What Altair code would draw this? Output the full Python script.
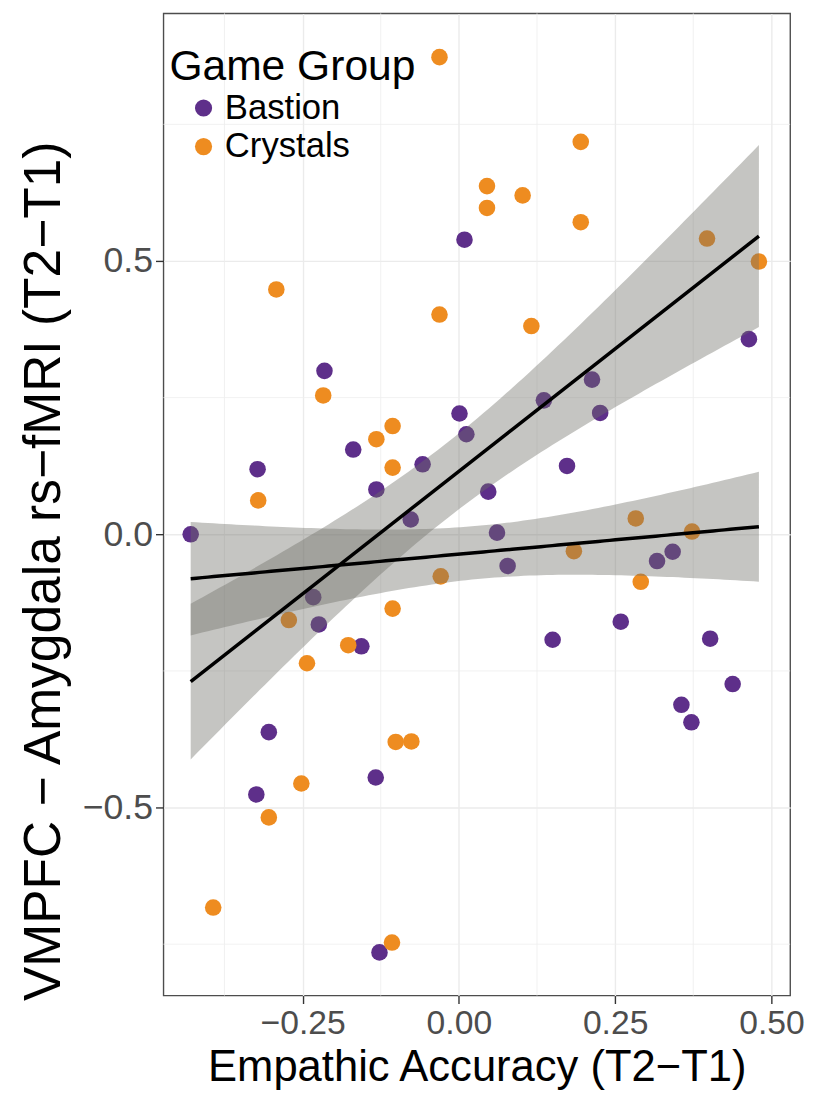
import numpy as np
import pandas as pd
import altair as alt

# ---- data ----
bastion_x = [0.009, 0.464, -0.215, 0.213, 0.136, 0.001, 0.226, 0.012, -0.169, -0.058,
             0.173, -0.322, -0.132, 0.047, -0.077, 0.061, -0.429, 0.342, 0.317, 0.078,
             -0.233, 0.259, -0.224, 0.150, 0.402, -0.156, 0.438, 0.356, 0.372, -0.304,
             -0.133, -0.324, -0.127]
bastion_y = [0.539, 0.357, 0.299, 0.283, 0.245, 0.221, 0.222, 0.183, 0.155, 0.128,
             0.125, 0.119, 0.082, 0.078, 0.027, 0.003, 0.000, -0.032, -0.049, -0.058,
             -0.115, -0.160, -0.165, -0.193, -0.191, -0.205, -0.274, -0.312, -0.344, -0.362,
             -0.445, -0.476, -0.765]
crystals_x = [-0.031, 0.195, 0.045, 0.102, 0.045, 0.195, 0.397, 0.480, -0.292, -0.031,
              0.116, -0.217, -0.106, -0.132, -0.106, -0.321, 0.283, 0.373, 0.184, -0.029,
              0.291, -0.106, -0.272, -0.177, -0.243, -0.101, -0.076, -0.252, -0.304, -0.393,
              -0.107]
crystals_y = [0.873, 0.718, 0.637, 0.620, 0.597, 0.571, 0.541, 0.499, 0.448, 0.402,
              0.381, 0.254, 0.198, 0.174, 0.122, 0.062, 0.029, 0.005, -0.031, -0.077,
              -0.087, -0.136, -0.157, -0.203, -0.236, -0.380, -0.379, -0.456, -0.518, -0.683,
              -0.747]

groups = ["Bastion", "Crystals"]
group_colors = ["#5E2F8A", "#EE8C20"]

x_ticks = [-0.25, 0.0, 0.25, 0.5]
y_ticks = [-0.5, 0.0, 0.5]
x_minor = [-0.375, -0.125, 0.125, 0.375]
y_minor = [-0.75, -0.25, 0.25, 0.75]
x_domain = [-0.4726, 0.530]
y_domain = [-0.844, 0.953]

FONT = "Liberation Sans"

points = pd.DataFrame({
    "x": bastion_x + crystals_x,
    "y": bastion_y + crystals_y,
    "group": ["Bastion"] * len(bastion_x) + ["Crystals"] * len(crystals_x),
})

# ---- linear fits with a +/- 1 standard-error band ----
SE_MULT = 1.0
all_x = np.array(bastion_x + crystals_x)
grid = np.linspace(all_x.min(), all_x.max(), 100)


def lm_band(xs, ys, name):
    xs = np.asarray(xs)
    ys = np.asarray(ys)
    n = len(xs)
    slope, icpt = np.polyfit(xs, ys, 1)
    resid = ys - (icpt + slope * xs)
    s = np.sqrt((resid ** 2).sum() / (n - 2))
    xbar = xs.mean()
    sxx = ((xs - xbar) ** 2).sum()
    fit = icpt + slope * grid
    se = s * np.sqrt(1.0 / n + (grid - xbar) ** 2 / sxx)
    return pd.DataFrame({"x": grid, "fit": fit, "lo": fit - SE_MULT * se,
                         "hi": fit + SE_MULT * se, "group": name})


fits = pd.concat([lm_band(bastion_x, bastion_y, "Bastion"),
                  lm_band(crystals_x, crystals_y, "Crystals")])

xs = alt.Scale(domain=x_domain, nice=False, zero=False)
ys = alt.Scale(domain=y_domain, nice=False, zero=False)

x_axis = alt.Axis(values=x_ticks,
                  labelExpr="replace(format(datum.value, '.2f'), '-', '\u2212')",
                  title="Empathic Accuracy (T2\u2212T1)",
                  labelFontSize=34, titleFontSize=44)
y_axis = alt.Axis(values=y_ticks,
                  labelExpr="replace(format(datum.value, '.1f'), '-', '\u2212')",
                  title="VMPFC \u2212 Amygdala rs\u2212fMRI (T2\u2212T1)",
                  labelFontSize=36, titleFontSize=52,
                  titleY=563, titleX=-94, titleAngle=270, titleBaseline="bottom",
                  titleAlign="center")

minor_x = alt.Chart(pd.DataFrame({"v": x_minor})).mark_rule(
    color="#EDEDED", strokeWidth=0.8).encode(x=alt.X("v:Q", scale=xs, axis=x_axis))
minor_y = alt.Chart(pd.DataFrame({"v": y_minor})).mark_rule(
    color="#EDEDED", strokeWidth=0.8).encode(y=alt.Y("v:Q", scale=ys, axis=y_axis))

pts = alt.Chart(points).mark_circle(size=280, opacity=1).encode(
    x=alt.X("x:Q", scale=xs, axis=x_axis),
    y=alt.Y("y:Q", scale=ys, axis=y_axis),
    color=alt.Color("group:N", scale=alt.Scale(domain=groups, range=group_colors),
                    legend=alt.Legend(title="Game Group", orient="none",
                                      legendX=6, legendY=33)),
)

band = alt.Chart(fits).mark_area(color="#6E6E66", opacity=0.4).encode(
    x=alt.X("x:Q", scale=xs),
    y=alt.Y("lo:Q", scale=ys),
    y2="hi:Q",
    detail="group:N",
)

line = alt.Chart(fits).mark_line(color="black", strokeWidth=3.5).encode(
    x=alt.X("x:Q", scale=xs),
    y=alt.Y("fit:Q", scale=ys),
    detail="group:N",
)

chart = alt.layer(minor_x, minor_y, pts, band, line).properties(
    width=633, height=992,
    autosize=alt.AutoSizeParams(type="none"),
    padding={"left": 157, "top": 0, "right": 17, "bottom": 98},
    background="white",
).configure_view(
    stroke="#4D4D4D", strokeWidth=1.4,
).configure_axis(
    labelFont=FONT, titleFont=FONT,
    labelColor="#4D4D4D",
    titleFontWeight="normal", titleColor="black",
    tickSize=8, tickColor="#333333", tickWidth=1.4,
    labelPadding=3, titlePadding=6,
    grid=True, gridColor="#EBEBEB", gridWidth=1.4,
    domain=False,
).configure_legend(
    titleFont=FONT, labelFont=FONT,
    titleFontSize=43, titleFontWeight="normal", titleColor="black", titleLimit=600,
    labelFontSize=35, labelColor="black", labelLimit=400,
    symbolType="circle", symbolSize=300, symbolStrokeWidth=0,
    symbolOffset=17, labelOffset=4, rowPadding=3, titlePadding=2, padding=0,
)

chart.save("out.html", embed_options={"renderer": "svg", "actions": False})
